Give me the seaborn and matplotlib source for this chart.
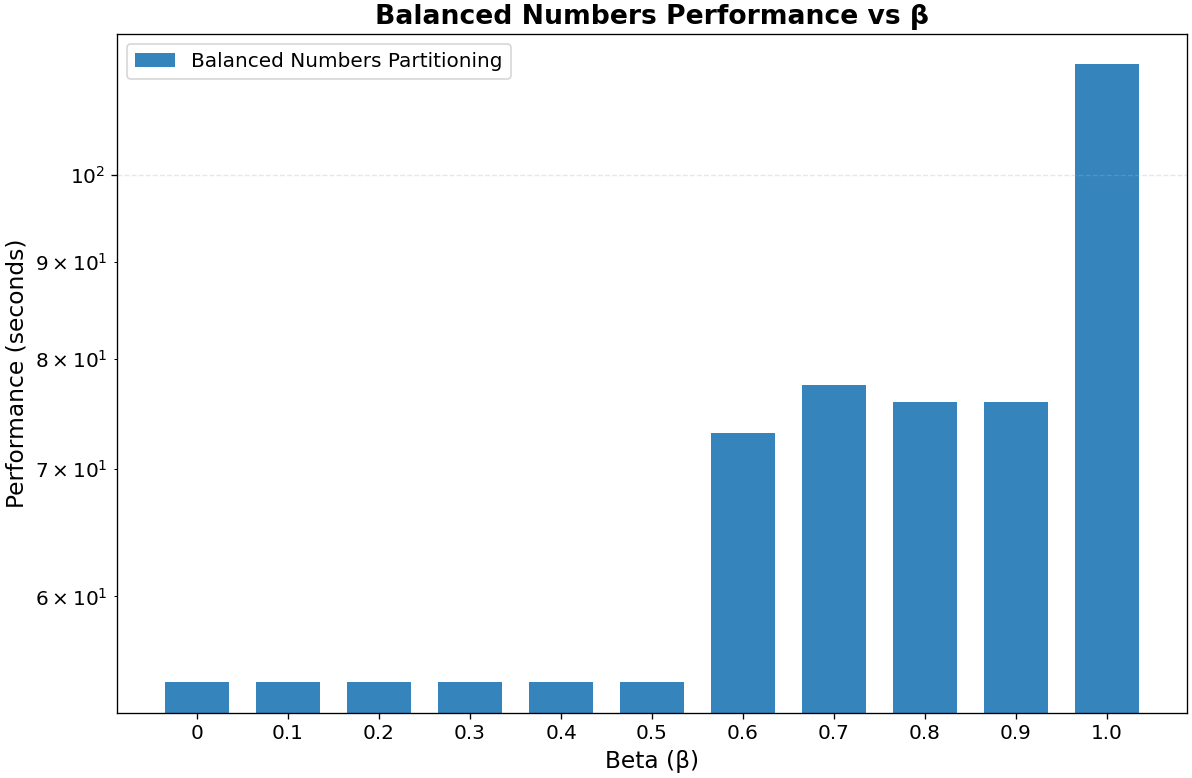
import matplotlib
matplotlib.use("Agg")
import matplotlib.pyplot as plt
import seaborn as sns
import pandas as pd

# Beta values and measured runtimes
betas = ["0", "0.1", "0.2", "0.3", "0.4", "0.5", "0.6", "0.7", "0.8", "0.9", "1.0"]
runtimes = [54.1, 54.1, 54.1, 54.1, 54.1, 54.1, 73.1, 77.5, 75.9, 75.9, 114.3]

df = pd.DataFrame({"beta": betas, "runtime": runtimes})

fig, ax = plt.subplots(figsize=(1192 / 120, 778 / 120), dpi=120)
ax.set_yscale("log")
sns.barplot(data=df, x="beta", y="runtime", order=betas, color="#1f77b4",
            alpha=0.9, saturation=1, width=0.7, label="Balanced Numbers Partitioning",
            ax=ax)
ax.set_ylim(52.13, 118.6)
ax.set_xlim(-0.88, 10.88)

ax.set_title("Balanced Numbers Performance vs β", fontsize=16, fontweight="bold")
ax.set_xlabel("Beta (β)", fontsize=14)
ax.set_ylabel("Performance (seconds)", fontsize=14)
ax.tick_params(axis="both", labelsize=12)
ax.tick_params(axis="y", which="minor", labelsize=12)
ax.grid(axis="y", linestyle="--", alpha=0.3)
ax.legend(loc="upper left", fontsize=12)

fig.subplots_adjust(left=117 / 1192, right=1187 / 1192, top=1 - 34 / 778, bottom=1 - 712.5 / 778)
fig.savefig("out.png", dpi=120)
